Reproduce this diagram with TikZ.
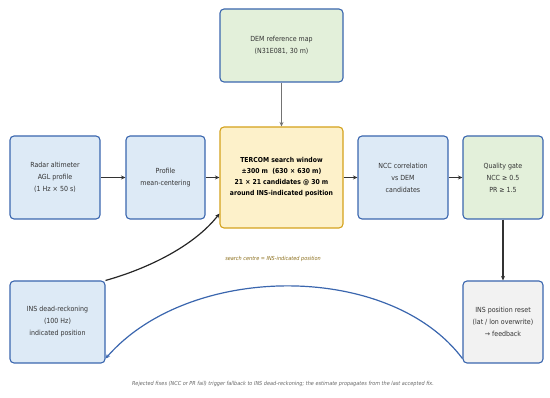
\documentclass[tikz,border=0pt]{standalone}
\usepackage{fontspec}
\setmainfont{DejaVu Sans Condensed}
\usetikzlibrary{arrows.meta}
\definecolor{bfill}{HTML}{DDEAF6}
\definecolor{bdraw}{HTML}{3A66AE}
\definecolor{gfill}{HTML}{E3F0DA}
\definecolor{yfill}{HTML}{FDF1CA}
\definecolor{ydraw}{HTML}{D4A21C}
\definecolor{rfill}{HTML}{F2F2F2}
\definecolor{arr}{HTML}{333333}
\definecolor{olivetxt}{HTML}{8A6D1A}
\definecolor{captxt}{HTML}{666666}
\tikzset{
  box/.style={draw=bdraw, line width=1.1pt, rounded corners=4pt, align=center,
    font=\fontsize{7}{12}\selectfont, text=black!80, inner sep=0pt},
  bluebox/.style={box, fill=bfill},
  greenbox/.style={box, fill=gfill},
  greybox/.style={box, fill=rfill},
  tbox/.style={box, fill=yfill, draw=ydraw, font=\bfseries\fontsize{6.8}{11}\selectfont, text=black},
  conn/.style={draw=arr, line width=1.2pt, -{Stealth[length=4.5pt,width=4pt]}},
}
\begin{document}
\begin{tikzpicture}[x=1pt,y=-1pt]
\useasboundingbox (0,0) rectangle (550,398);
\node[greenbox, minimum width=123pt, minimum height=73pt] (dem) at (281.5,45.5) {DEM reference map\\(N31E081, 30 m)};
\node[bluebox, minimum width=90pt, minimum height=83pt] (radar) at (55,177.5) {Radar altimeter\\AGL profile\\(1 Hz × 50 s)};
\node[bluebox, minimum width=79pt, minimum height=83pt] (prof) at (165.5,177.5) {Profile\\mean-centering};
\node[tbox, minimum width=123pt, minimum height=101pt] (terc) at (281.5,177.5) {TERCOM search window\\±300 m \ (630 × 630 m)\\21 × 21 candidates @ 30 m\\around INS-indicated position};
\node[bluebox, minimum width=90pt, minimum height=83pt] (ncc) at (403,177.5) {NCC correlation\\vs DEM\\candidates};
\node[greenbox, minimum width=80pt, minimum height=83pt] (gate) at (503,177.5) {Quality gate\\NCC ≥ 0.5\\PR ≥ 1.5};
\node[bluebox, minimum width=95pt, minimum height=82pt] (dr) at (57.5,322) {INS dead-reckoning\\(100 Hz)\\indicated position};
\node[greybox, minimum width=80pt, minimum height=82pt] (reset) at (503,322) {INS position reset\\(lat / lon overwrite)\\→ feedback};
\node[font=\itshape\fontsize{5.5}{6}\selectfont, text=olivetxt] (lbl) at (273,259) {search centre = INS-indicated position};
\node[font=\itshape\fontsize{5.5}{6}\selectfont, text=captxt] (cap) at (283,384) {Rejected fixes (NCC or PR fail) trigger fallback to INS dead-reckoning; the estimate propagates from the last accepted fix.};
\draw[conn] (radar) -- (prof);
\draw[conn] (prof) -- (terc);
\draw[conn] (terc) -- (ncc);
\draw[conn] (ncc) -- (gate);
\draw[conn, draw=black!55] (dem) -- (terc);
\draw[conn] (gate) -- (reset);
\draw[conn, draw=black!85] (dr.north east) .. controls (150,268) and (195,245) .. ([yshift=15pt]terc.south west);
\draw[line width=1.2pt, draw=bdraw, -{Stealth[length=4.5pt,width=4pt]}] ([yshift=5pt]reset.south west) .. controls (390,262) and (190,262) .. ([yshift=5pt]dr.south east);
\end{tikzpicture}
\end{document}
